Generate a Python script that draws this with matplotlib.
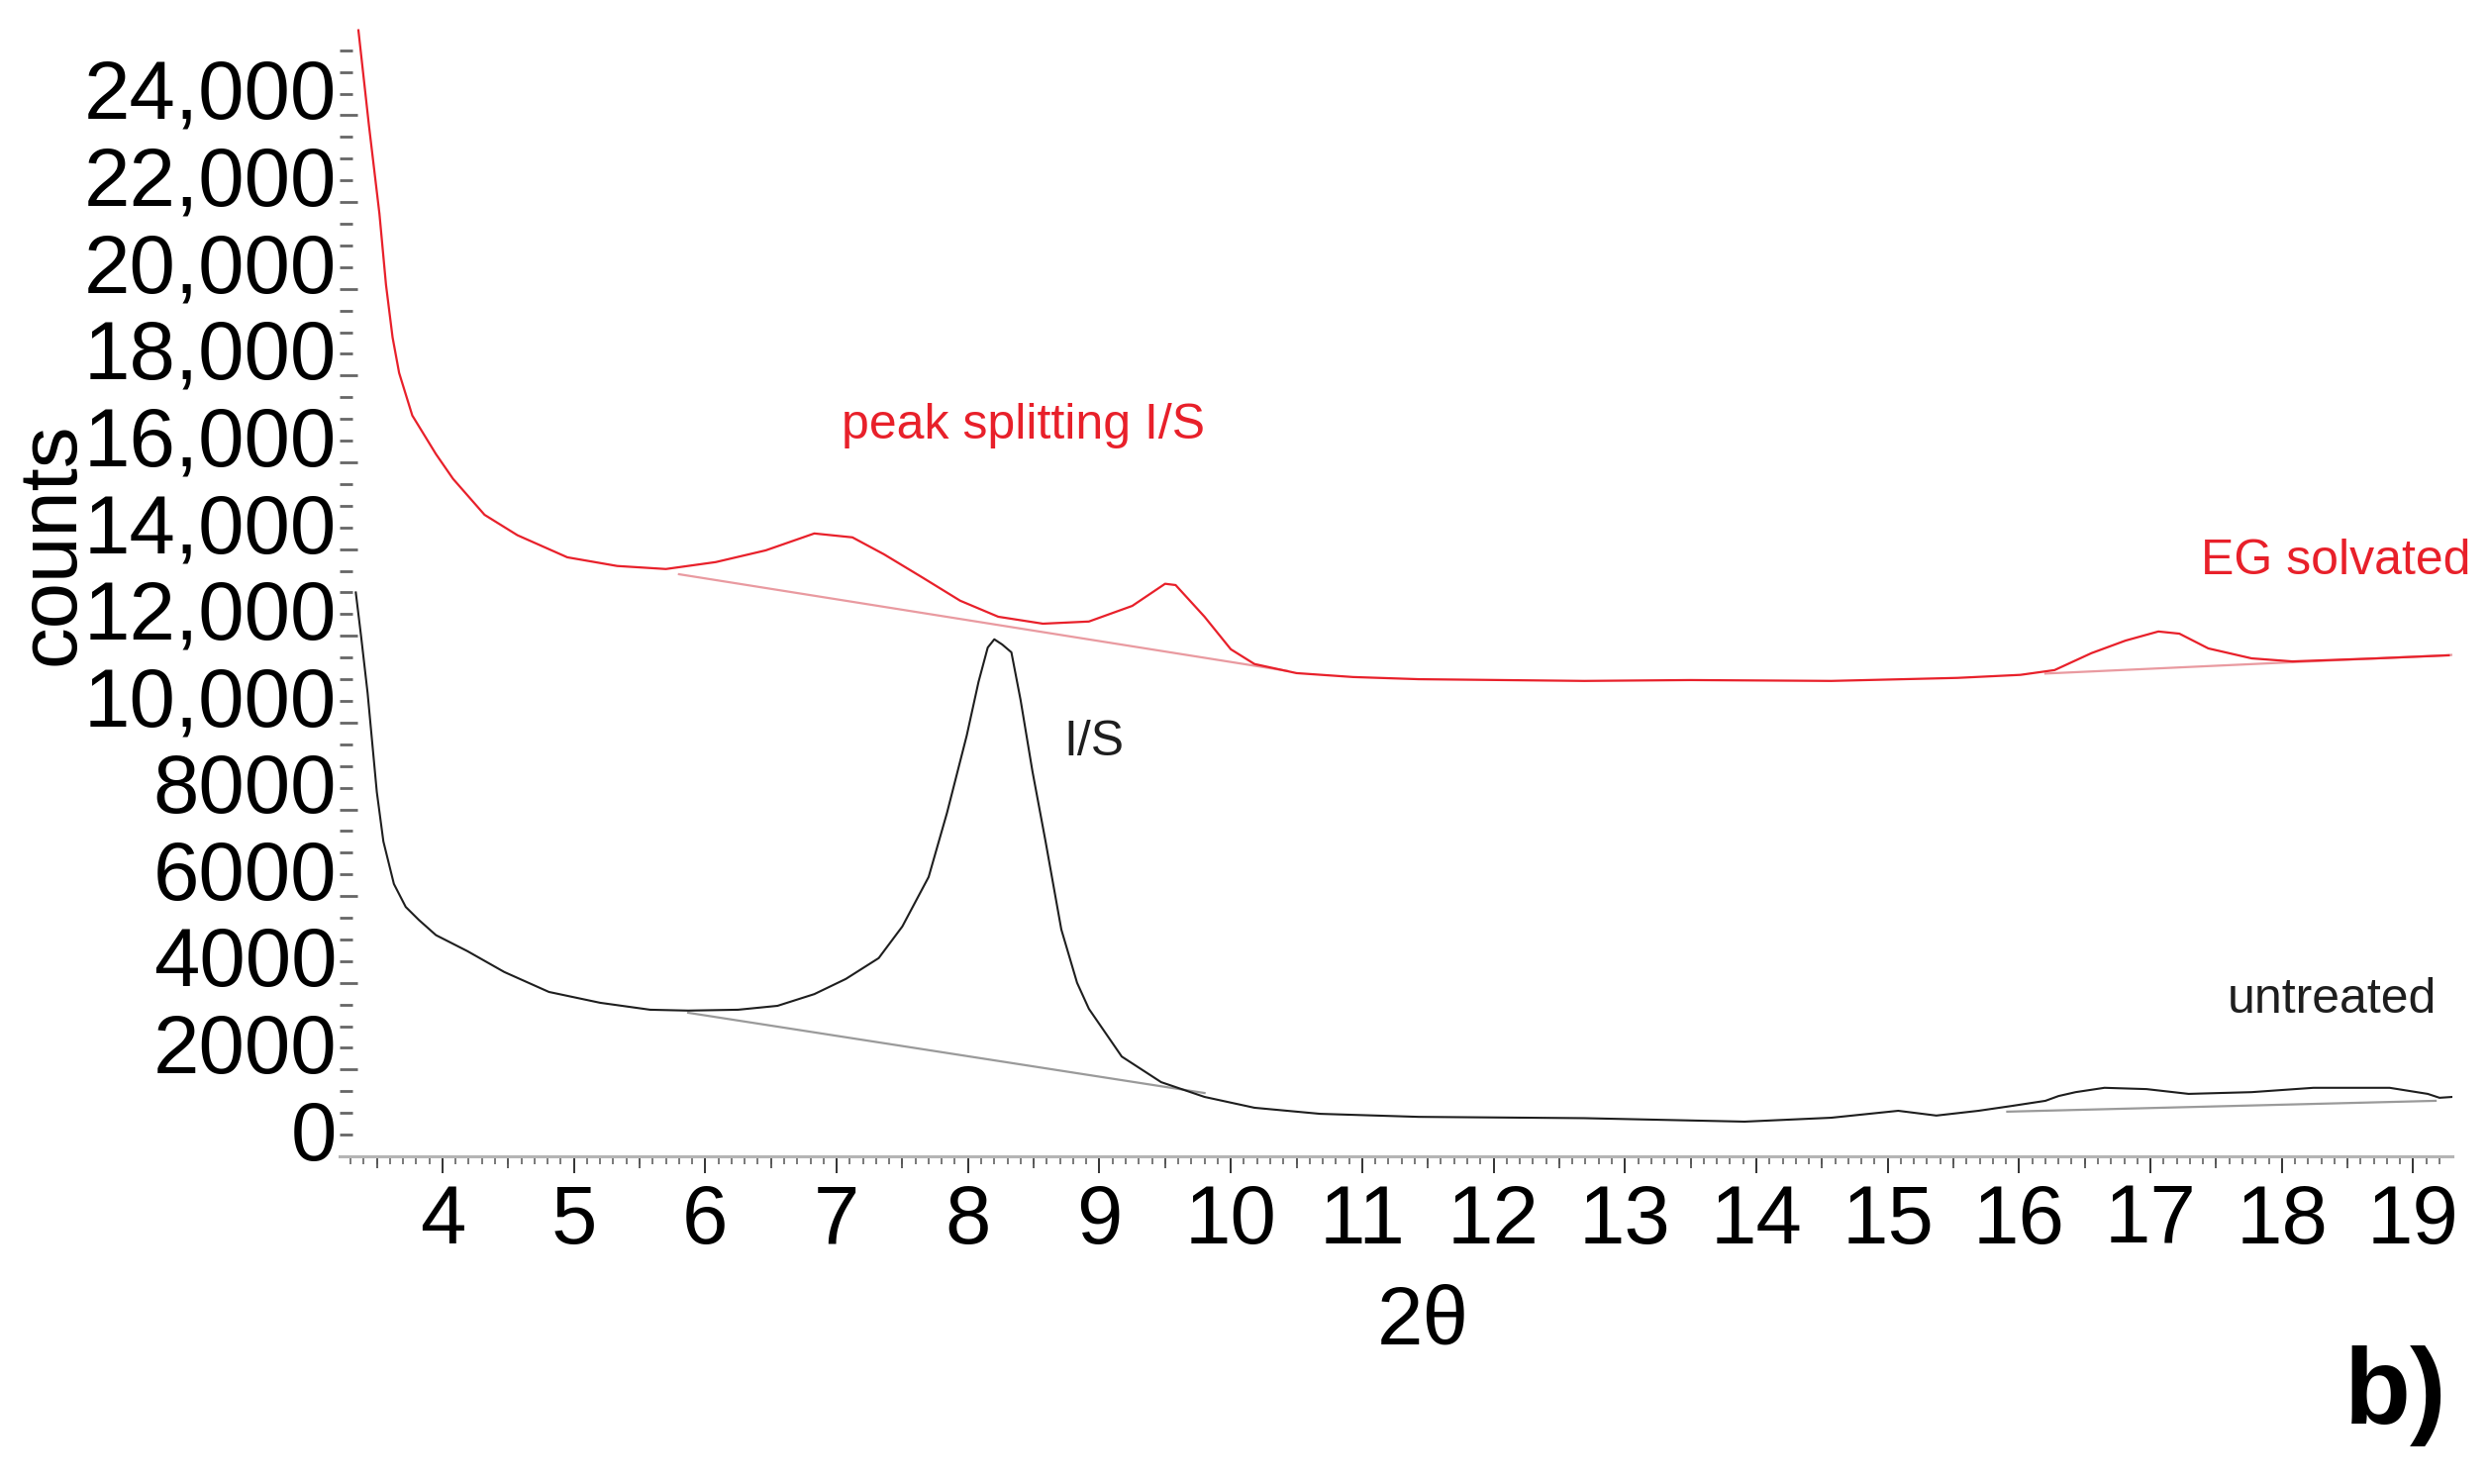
import numpy as np
import matplotlib
matplotlib.use('Agg')
import matplotlib.pyplot as plt
from matplotlib.ticker import FixedLocator, MultipleLocator
from matplotlib.transforms import ScaledTranslation

# ---------------- data ----------------
eg_x = [3.36, 3.44, 3.52, 3.57, 3.62, 3.67, 3.77, 3.95, 4.08, 4.32, 4.57, 4.95, 5.33,
        5.70, 6.08, 6.46, 6.83, 7.12, 7.36, 7.65, 7.94, 8.23, 8.57, 8.92, 9.25,
        9.50, 9.58, 9.80, 10.00, 10.18, 10.50, 10.93, 11.43, 12.69, 13.5,
        14.57, 15.53, 16.01, 16.27, 16.55, 16.81, 17.06, 17.22, 17.44, 17.77,
        18.08, 18.72, 19.27]
eg_y = [25960, 23770, 21730, 20090, 18880, 18060, 17080, 16190, 15620, 14790, 14320, 13810, 13610,
        13540, 13700, 13970, 14360, 14270, 13880, 13350, 12810, 12440, 12280, 12330, 12690,
        13200, 13170, 12440, 11690, 11350, 11140, 11050, 11000, 10960, 10980,
        10960, 11030, 11100, 11210, 11600, 11890, 12100, 12050, 11710, 11480,
        11410, 11480, 11550]

un_x = [3.34, 3.38, 3.43, 3.50, 3.55, 3.63, 3.72, 3.82, 3.95, 4.19, 4.47, 4.81, 5.20,
        5.58, 5.87, 6.25, 6.55, 6.83, 7.07, 7.32, 7.50, 7.70, 7.84, 7.99, 8.08, 8.15,
        8.20, 8.26, 8.33, 8.40, 8.49, 8.59, 8.71, 8.83, 8.92, 9.17, 9.47, 9.80,
        10.18, 10.68, 11.43, 12.69, 13.91, 14.57, 15.08, 15.37, 15.69, 15.94, 16.20,
        16.30, 16.43, 16.65, 16.97, 17.29, 17.77, 18.24, 18.82, 19.11, 19.20, 19.30]
un_y = [13000, 12000, 10680, 8400, 7260, 6280, 5750, 5450, 5100, 4730, 4250, 3790, 3540,
        3380, 3360, 3380, 3470, 3740, 4090, 4570, 5300, 6440, 7920, 9700, 10940, 11730,
        11920, 11800, 11620, 10520, 8880, 7260, 5230, 4000, 3400, 2300, 1710, 1370,
        1120, 980, 910, 880, 800, 890, 1050, 940, 1050, 1160, 1280,
        1390, 1480, 1580, 1550, 1440, 1480, 1580, 1580, 1440, 1350, 1370]

eg_base1_x = [5.80, 10.43]
eg_base1_y = [13420, 11190]
eg_base2_x = [16.20, 19.30]
eg_base2_y = [11130, 11560]
un_base1_x = [5.87, 9.80]
un_base1_y = [3310, 1460]
un_base2_x = [15.91, 19.17]
un_base2_y = [1030, 1280]

xtick_vals = list(range(4, 20))
xtick_labels = [str(v) for v in xtick_vals]
ytick_vals = [0, 2000, 4000, 6000, 8000, 10000, 12000, 14000, 16000, 18000, 20000, 22000, 24000]
ytick_labels = ['0', '2000', '4000', '6000', '8000', '10,000', '12,000', '14,000',
                '16,000', '18,000', '20,000', '22,000', '24,000']

RED = '#e8202a'
RED_BASE = '#e99aa0'
BLACK = '#1e1e1e'
GRAY_BASE = '#9a9a9a'

plt.rcParams['font.family'] = ['Liberation Sans', 'DejaVu Sans']

fig = plt.figure(figsize=(25.14, 14.99), dpi=100)
ax = fig.add_axes([0.1364, 0.2208, 0.8489, 0.7658])

ax.plot(eg_base1_x, eg_base1_y, color=RED_BASE, lw=1.6, zorder=2)
ax.plot(eg_base2_x, eg_base2_y, color=RED_BASE, lw=1.6, zorder=2)
ax.plot(un_base1_x, un_base1_y, color=GRAY_BASE, lw=1.6, zorder=2)
ax.plot(un_base2_x, un_base2_y, color=GRAY_BASE, lw=1.6, zorder=2)
ax.plot(eg_x, eg_y, color=RED, lw=1.6, zorder=3)
ax.plot(un_x, un_y, color=BLACK, lw=1.5, zorder=3)

ax.set_xlim(3.216, 19.298)
ax.set_ylim(0, 26200)

for s in ['top', 'right', 'left']:
    ax.spines[s].set_visible(False)
ax.spines['bottom'].set_color('#b5b5b5')
ax.spines['bottom'].set_linewidth(2.2)

# x ticks
ax.set_xticks(xtick_vals, xtick_labels)
ax.xaxis.set_minor_locator(MultipleLocator(0.1))
ax.tick_params(axis='x', which='major', direction='out', length=12.2, width=1.4,
               color='#333333', labelsize=60, pad=7)
ax.tick_params(axis='x', which='minor', direction='out', length=5.5, width=1.1,
               color='#555555')
sec = ax.secondary_xaxis('bottom')
sec.set_xticks(np.arange(3.5, 19.6, 1.0))
sec.tick_params(axis='x', direction='out', length=8.6, width=1.2, color='#444444',
                labelbottom=False)
sec.spines['bottom'].set_visible(False)

# y ticks
ax.set_yticks(ytick_vals, ytick_labels)
ax.yaxis.set_minor_locator(FixedLocator(np.arange(0, 25501, 500)))
ax.tick_params(axis='y', which='major', direction='in', length=13, width=2.0,
               color='#666666', labelsize=60, pad=2)
ax.tick_params(axis='y', which='minor', direction='in', length=9.4, width=2.0,
               color='#666666')
offset = ScaledTranslation(0, 0.27, fig.dpi_scale_trans)
for t in ax.yaxis.get_major_ticks():
    t.label1.set_transform(t.label1.get_transform() + offset)

ax.set_ylabel('counts', fontsize=60)
ax.yaxis.set_label_coords(-0.1176, 0.539)
ax.set_xlabel('2θ', fontsize=60)
ax.xaxis.set_label_coords(0.513, -0.1124)

ax.text(8.42, 16850, 'peak splitting I/S', color=RED, fontsize=36, ha='center', va='center')
ax.text(19.44, 13720, 'EG solvated', color=RED, fontsize=36, ha='right', va='center')
ax.text(8.73, 9540, 'I/S', color=BLACK, fontsize=36, ha='left', va='center')
ax.text(18.38, 3610, 'untreated', color=BLACK, fontsize=36, ha='center', va='center')

fig.text(0.9626, 0.0594, 'b)', fontsize=79, fontweight='bold', ha='center', va='center')

fig.savefig('out.png', dpi=100)
